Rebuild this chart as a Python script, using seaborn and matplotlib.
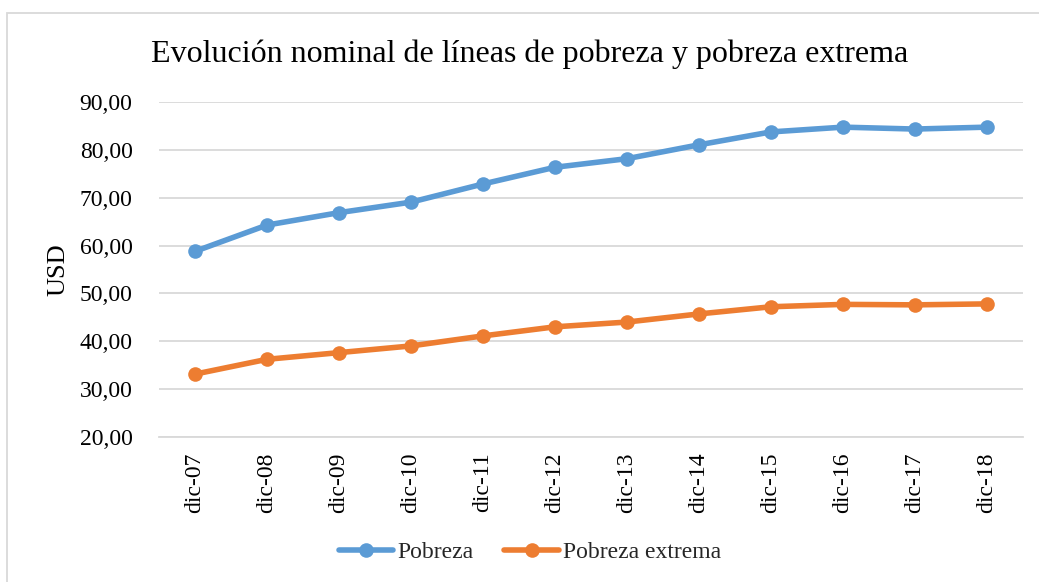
import matplotlib
matplotlib.use("Agg")
import matplotlib.pyplot as plt
from matplotlib.lines import Line2D
from matplotlib.patches import Rectangle
import seaborn as sns
import pandas as pd

# ---- data ----
months = ["dic-07", "dic-08", "dic-09", "dic-10", "dic-11", "dic-12",
          "dic-13", "dic-14", "dic-15", "dic-16", "dic-17", "dic-18"]
pobreza = [58.8, 64.3, 66.9, 69.1, 72.9, 76.4, 78.2, 81.1, 83.8, 84.8, 84.4, 84.8]
pobreza_extrema = [33.1, 36.2, 37.6, 39.0, 41.1, 43.0, 44.0, 45.7, 47.2, 47.7, 47.6, 47.8]
series_names = ["Pobreza", "Pobreza extrema"]
colors = ["#5B9BD5", "#ED7D31"]
yticks = [20, 30, 40, 50, 60, 70, 80, 90]
title = "Evolución nominal de líneas de pobreza y pobreza extrema"

df = pd.DataFrame({
    "Mes": months * 2,
    "USD": pobreza + pobreza_extrema,
    "Serie": [series_names[0]] * len(months) + [series_names[1]] * len(months),
})

sns.set_style("white")
plt.rcParams["font.family"] = ["Liberation Serif", "DejaVu Serif"]

W, H = 1039, 582
fig = plt.figure(figsize=(W / 100, H / 100), dpi=100)
ax = fig.add_axes([159 / W, 1 - 436.7 / H, 864 / W, 334.4 / H])

palette = dict(zip(series_names, colors))
sns.lineplot(data=df, x="Mes", y="USD", hue="Serie", hue_order=series_names,
             palette=palette, marker="o", markersize=10.5, markeredgewidth=0,
             linewidth=4, sort=False, legend=False, ax=ax)

ax.set_xlim(-0.5, len(months) - 0.5)
ax.set_ylim(20, 90)
ax.set_yticks(yticks)
ax.set_yticklabels([f"{v:.2f}".replace(".", ",") for v in yticks])
ax.set_xticks(range(len(months)))
ax.set_xticklabels(months, rotation=90)
ax.tick_params(axis="y", length=0, pad=19, labelsize=17, colors="black")
ax.tick_params(axis="x", length=0, pad=11.5, labelsize=17, colors="black")
ax.yaxis.grid(True, color="#D9D9D9", linewidth=1.3)
ax.xaxis.grid(False)
for s in ax.spines.values():
    s.set_visible(False)
ax.spines["bottom"].set_visible(True)
ax.spines["bottom"].set_color("#D9D9D9")
ax.spines["bottom"].set_linewidth(1.3)
ax.set_xlabel("")
ax.set_ylabel("")

fig.text(58 / W, 1 - 270 / H, "USD", rotation=90, ha="center", va="center",
         fontsize=19, color="black")
fig.text(530 / W, 1 - 62 / H, title, ha="center", va="baseline",
         fontsize=23, color="black")

handles = [Line2D([], [], color=c, linewidth=4, marker="o", markersize=10.5,
                  markeredgewidth=0) for c in colors]
fig.legend(handles, series_names, loc="center", bbox_to_anchor=(530 / W, 1 - 552 / H),
           ncol=2, frameon=False, fontsize=17, handlelength=2.3,
           handletextpad=0.2, columnspacing=1.3)

fig.patches.append(Rectangle((7 / W, -0.02), 1.05, 1 - 12.5 / H + 0.02,
                             transform=fig.transFigure, fill=False,
                             edgecolor="#D9D9D9", linewidth=1.3, zorder=0))

fig.savefig("out.png", dpi=100, facecolor="white")
